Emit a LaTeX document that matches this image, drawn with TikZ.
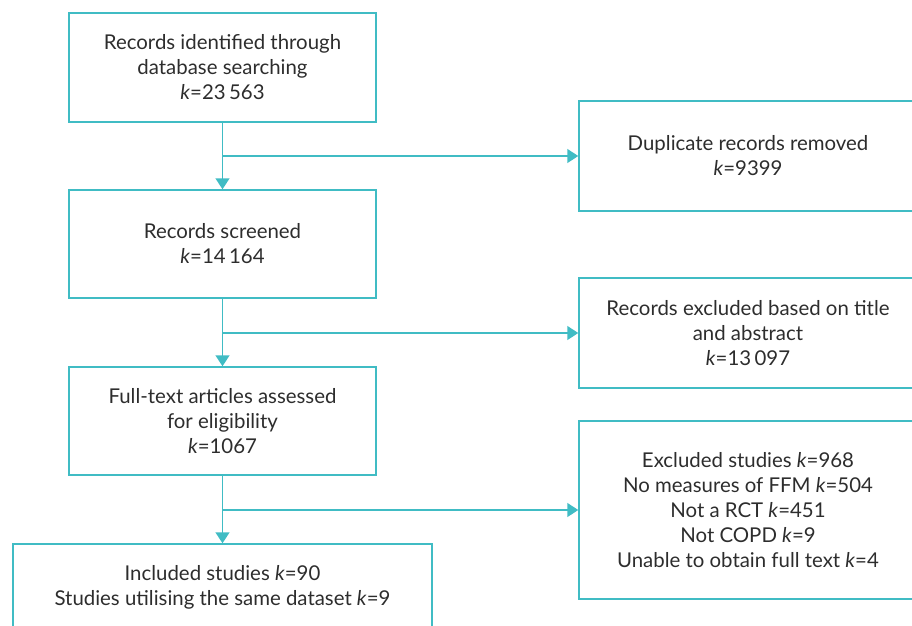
\documentclass[tikz,border=0pt]{standalone}
\usepackage{fontspec}
\setmainfont{Lato}
\usetikzlibrary{arrows.meta}
\definecolor{prteal}{RGB}{64,188,196}
\definecolor{prtext}{RGB}{45,45,45}
\tikzset{
  flowbox/.style={draw=prteal, line width=1.5pt, text=prtext, align=center,
    font=\fontsize{20.4}{25}\selectfont, inner sep=0pt},
  flowline/.style={draw=prteal, line width=1.5pt},
  flowarrow/.style={flowline, -{Triangle[length=11pt,width=14pt]}}
}
\begin{document}
\begin{tikzpicture}[x=1pt,y=-1pt]
\useasboundingbox (0,0) rectangle (912,625);
\clip (0,0) rectangle (912,625);
\node[flowbox, minimum width=307, minimum height=109] (rec) at (222.5,67.5){Records identified through\\database searching\\\textit{k}=23\,563};
\node[flowbox, minimum width=307, minimum height=108] (scr) at (222.5,244){Records screened\\\textit{k}=14\,164};
\node[flowbox, minimum width=307, minimum height=108] (full) at (222.5,421){Full-text articles assessed\\for eligibility\\\textit{k}=1067};
\node[flowbox, minimum width=419, minimum height=86] (incl) at (222.5,587){Included studies \textit{k}=90\\Studies utilising the same dataset \textit{k}=9};
\node[flowbox, minimum width=338, minimum height=110] (dup) at (748,156){Duplicate records removed\\\textit{k}=9399};
\node[flowbox, minimum width=338, minimum height=110] (tab) at (748,333){Records excluded based on title\\and abstract\\\textit{k}=13\,097};
\node[flowbox, minimum width=338, minimum height=178] (excl) at (748,510){Excluded studies \textit{k}=968\\No measures of FFM \textit{k}=504\\Not a RCT \textit{k}=451\\Not COPD \textit{k}=9\\Unable to obtain full text \textit{k}=4};
\coordinate (b1) at (rec.south |- dup.west);
\coordinate (b2) at (scr.south |- tab.west);
\coordinate (b3) at (full.south |- excl.west);
\draw[flowarrow](rec) -- (scr);
\draw[flowarrow](scr) -- (full);
\draw[flowarrow](full) -- (incl);
\draw[flowarrow](b1) -- (dup);
\draw[flowarrow](b2) -- (tab);
\draw[flowarrow](b3) -- (excl);
\end{tikzpicture}
\end{document}
